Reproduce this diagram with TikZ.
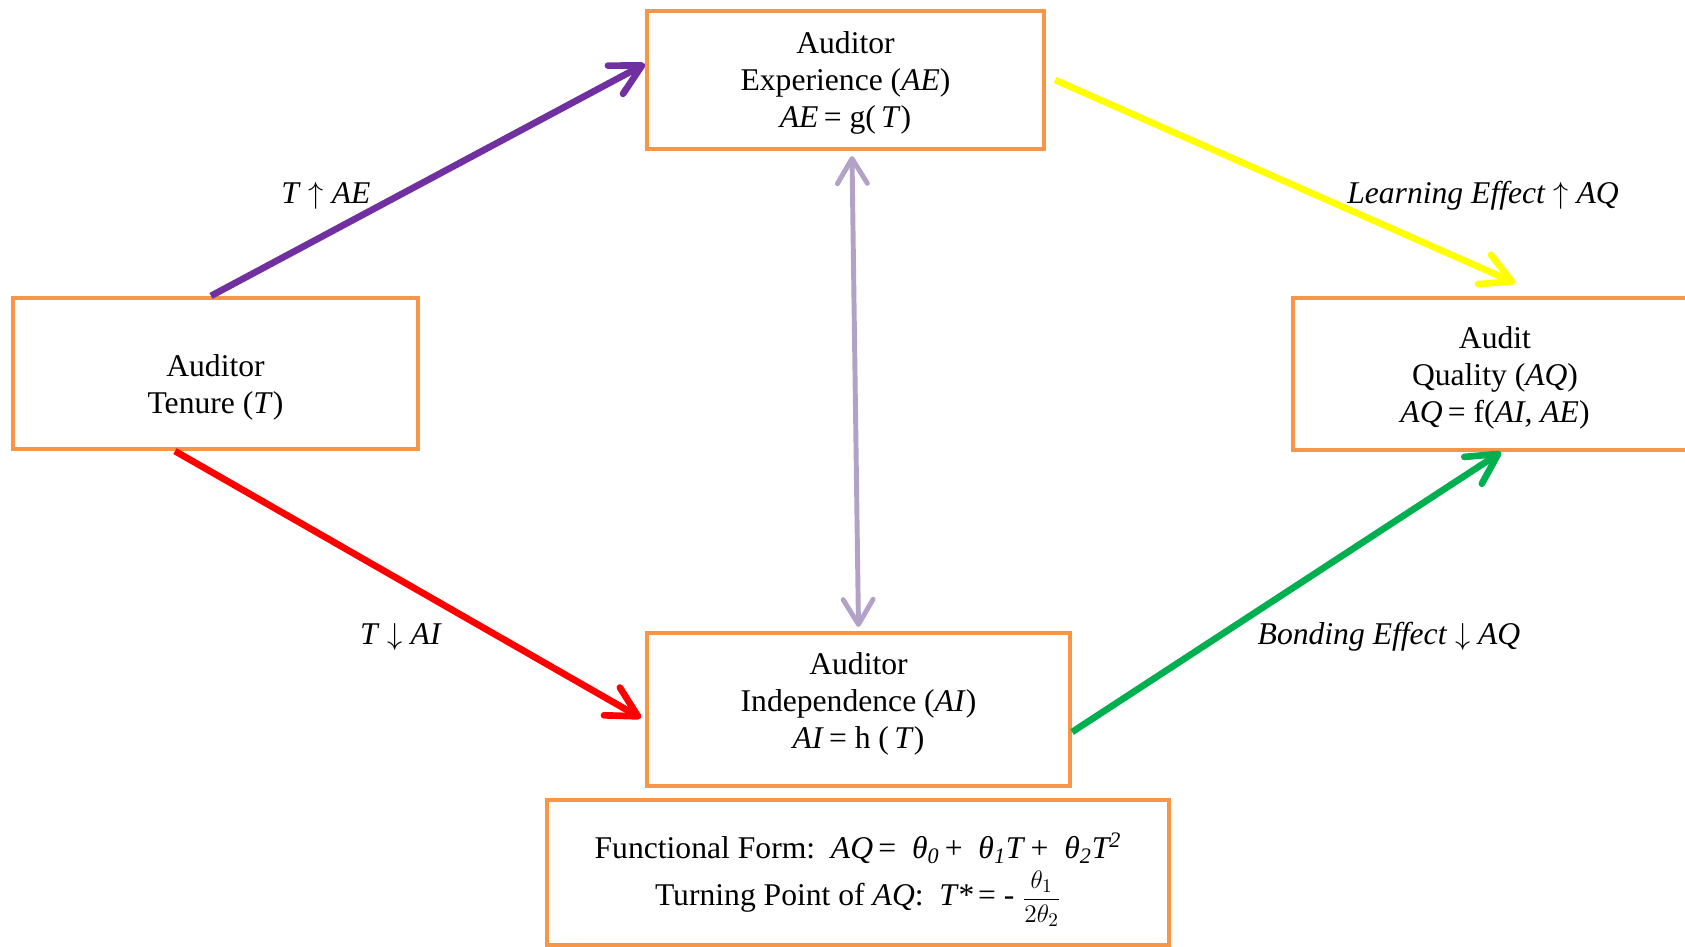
\documentclass[tikz,border=0pt]{standalone}
\usepackage{fontspec}
\setmainfont{Liberation Serif}
\usepackage{amsmath}
\usepackage{xcolor}
\usetikzlibrary{arrows.meta}

\definecolor{boxorange}{HTML}{F79646}
\definecolor{linkpurple}{HTML}{7030A0}
\definecolor{linkyellow}{HTML}{FFFF00}
\definecolor{linkred}{HTML}{FF0000}
\definecolor{linkgreen}{HTML}{00B050}
\definecolor{linklilac}{HTML}{B3A2C7}

\begin{document}
\begin{tikzpicture}[
		every node/.style={font=\fontsize{18}{21}\selectfont},
		box/.style={draw=boxorange, line width=2.4pt, align=center, inner sep=0pt},
		link/.style={line width=3.8pt, -{Straight Barb[length=6mm,width=6.4mm,round]}},
		twolink/.style={line width=2.8pt, {Straight Barb[length=5mm,width=6mm,round]}-{Straight Barb[length=5mm,width=6mm,round]}}
	]
			\useasboundingbox (0,0) rectangle (33.7,-18.94);
			
			\node[box, minimum width=8.1cm, minimum height=3.02cm] (T) at (4.31,-7.47) {\mbox{}\\[7pt]Auditor\\Tenure (\textit{T})};
			\node[box, minimum width=7.94cm, minimum height=2.76cm] (AE) at (16.91,-1.6) {\mbox{}\\[-5pt]Auditor\\Experience (\textit{AE})\\\textit{AE}\,= g(\,\textit{T})};
			\node[box, minimum width=8.08cm, minimum height=3.04cm] (AQ) at (29.9,-7.48) {\mbox{}\\[-4pt]Audit\\Quality (\textit{AQ})\\\textit{AQ}\,= f(\textit{AI, AE})};
			\node[box, minimum width=8.46cm, minimum height=3.06cm] (AI) at (17.17,-14.19) {Auditor\\Independence (\textit{AI})\\\textit{AI}\,= h (\,\textit{T})\\[-10.5pt]\mbox{}};
			\node[box, minimum width=12.44cm, minimum height=2.9cm] (FF) at (17.16,-17.45) {\mbox{}\\[2pt]Functional Form:\ \ \textit{AQ}\,=\enspace\textit{θ\textsubscript{0}}\,+\enspace\textit{θ\textsubscript{1}T}\,+\enspace\textit{θ\textsubscript{2}T\textsuperscript{2}}\\[3pt]Turning Point of \textit{AQ}:\ \ \textit{T*}\,= - {\fontsize{15}{15}\selectfont$\dfrac{\theta_1}{2\theta_2}$}};
			
			\draw[link, linkpurple] ([xshift=-0.09cm]T.north) -- ([yshift=0.32cm]AE.west);
			\draw[link, linkyellow] ([xshift=0.18cm]AE.east) -- ([xshift=0.4cm,yshift=0.26cm]AQ.north);
			\draw[link, linkred] ([xshift=-0.81cm]T.south) -- ([xshift=-0.08cm,yshift=-0.17cm]AI.west);
			\draw[link, linkgreen] ([yshift=-0.45cm]AI.east) -- ([xshift=0.12cm]AQ.south);
			\draw[twolink, linklilac] ([xshift=0.13cm,yshift=-0.1cm]AE.south) -- ([yshift=0.08cm]AI.north);
			
			\node (upAE) at (6.52,-3.92) {\textit{T} $\uparrow$ \textit{AE}};
			\node (upAQ) at (29.66,-3.92) {\textit{Learning Effect} $\uparrow$ \textit{AQ}};
			\node (downAI) at (8.02,-12.74) {\textit{T} $\downarrow$ \textit{AI}};
			\node (downAQ) at (27.78,-12.74) {\textit{Bonding Effect} $\downarrow$ \textit{AQ}};
		\end{tikzpicture}
\end{document}
